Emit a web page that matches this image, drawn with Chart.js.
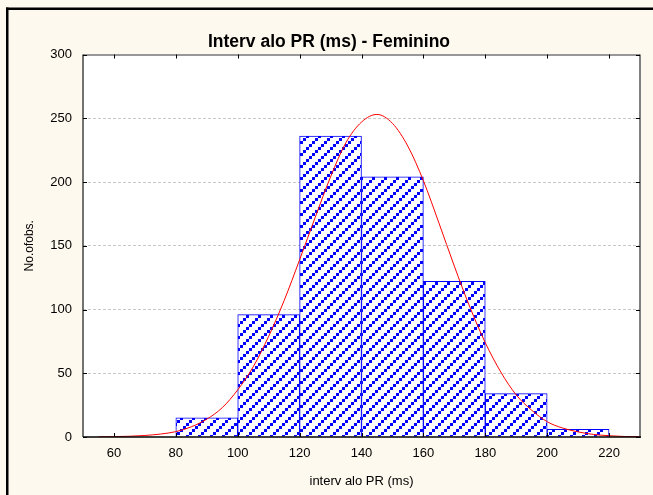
<!DOCTYPE html>
<html>
<head>
<meta charset="utf-8">
<script src="https://cdn.jsdelivr.net/npm/chart.js@4/dist/chart.umd.min.js"></script>
<style>
	html, body { margin: 0; padding: 0; background: #fef9ee; }
	#wrap { width: 653px; height: 495px; position: relative; }
</style>
</head>
<body>
<div id="wrap"><canvas id="chart-pr-feminino"></canvas></div>
<script>
// Histogram bins (bin centres) and counts
const BIN_CENTRES = [90, 110, 130, 150, 170, 190, 210];
const BIN_COUNTS = [15, 96, 236, 204, 122, 34, 6];

// Fitted normal curve
const CURVE_X = [55, 60, 65, 70, 75, 80, 85, 90, 95, 100, 105, 110, 115, 120, 125, 130, 135, 140, 145, 150, 155, 160, 165, 170, 175, 180, 185, 190, 195, 200, 205, 210, 215, 220, 225, 230];
const CURVE_Y = [0.1, 0.3, 0.6, 1.2, 2.3, 4.2, 8, 14, 23, 37, 55, 79, 107, 139, 172, 204, 231, 247, 253, 246, 228, 201, 168, 134, 102, 74, 51, 33, 21, 12, 7, 4, 2, 1, 0.4, 0.2];

// Axis ticks
const X_TICKS = [60, 80, 100, 120, 140, 160, 180, 200, 220];
const Y_TICKS = [0, 50, 100, 150, 200, 250, 300];

const FONT = "'Liberation Sans', Arial, sans-serif";

//---------------------------------------------------------
// Hatch pattern for the bars
//---------------------------------------------------------
const makeHatch = () => {
	const size = 12;
	const tile = document.createElement("canvas");
	tile.width = size;
	tile.height = size;
	const tctx = tile.getContext("2d");
	tctx.fillStyle = "#ffffff";
	tctx.fillRect(0, 0, size, size);
	tctx.fillStyle = "#0000ff";
	// dotted "/" stripes
	for (let i = 0; i < size; i += 3) {
		tctx.fillRect(i, size - 3 - i, 3, 3);
	}
	return tctx.createPattern(tile, "repeat");
};

//---------------------------------------------------------
// Background, frame, plot border and inward ticks
//---------------------------------------------------------
const frameAndTicks = {
	id: "frameAndTicks",
	beforeDraw(chart) {
		const { ctx, width, height, chartArea: a } = chart;
		ctx.save();
		ctx.fillStyle = "#fef9ee";
		ctx.fillRect(0, 0, width, height);
		ctx.fillStyle = "#000000";
		ctx.fillRect(6, 7.5, width - 6, 2.5);
		ctx.fillRect(6, 7.5, 2.5, height - 7.5);
		ctx.fillStyle = "#ffffff";
		ctx.fillRect(a.left, a.top, a.right - a.left, a.bottom - a.top);
		ctx.restore();
	},
	afterDatasetsDraw(chart) {
		const { ctx, chartArea: a, scales } = chart;
		const line = (x1, y1, x2, y2) => {
			ctx.beginPath();
			ctx.moveTo(x1, y1);
			ctx.lineTo(x2, y2);
			ctx.stroke();
		};
		ctx.save();
		// plot border
		ctx.strokeStyle = "#7f7f7f";
		ctx.lineWidth = 2;
		line(a.right, a.top, a.right, a.bottom + 1);
		ctx.strokeStyle = "#333333";
		ctx.lineWidth = 1;
		line(a.left, a.top + 0.5, a.right, a.top + 0.5);
		ctx.lineWidth = 1.5;
		ctx.strokeStyle = "#444444";
		line(a.left, a.top, a.left, a.bottom);
		ctx.strokeStyle = "#000000";
		line(a.left, a.bottom, a.right + 1, a.bottom);
		// ticks pointing inwards on all four sides
		ctx.lineWidth = 1;
		ctx.strokeStyle = "#000000";
		scales.x.ticks.forEach((t) => {
			const px = Math.round(scales.x.getPixelForValue(t.value)) + 0.5;
			line(px, a.bottom, px, a.bottom - 4);
			line(px, a.top, px, a.top + 4);
		});
		scales.y.ticks.forEach((t) => {
			const py = Math.round(scales.y.getPixelForValue(t.value)) + 0.5;
			line(a.left, py, a.left + 4, py);
			line(a.right, py, a.right - 4, py);
		});
		ctx.restore();
	},
};

//---------------------------------------------------------
// Chart
//---------------------------------------------------------
const CHART_DATA = {
	datasets: [
		{
			type: "line",
			label: "Normal",
			data: CURVE_X.map((x, i) => ({ x: x, y: CURVE_Y[i] })),
			borderColor: "#ff0000",
			borderWidth: 1,
			pointRadius: 0,
			cubicInterpolationMode: "monotone",
			fill: false,
			order: 0,
		},
		{
			type: "bar",
			label: "No. of obs.",
			data: BIN_CENTRES.map((x, i) => ({ x: x, y: BIN_COUNTS[i] })),
			backgroundColor: makeHatch(),
			borderColor: "#0000ff",
			borderWidth: 1,
			barPercentage: 1,
			categoryPercentage: 1,
			grouped: false,
			order: 1,
		},
	],
};

const CHART_CONFIG = {
	data: CHART_DATA,
	options: {
		responsive: true,
		maintainAspectRatio: false,
		animation: false,
		layout: {
			padding: { left: 18, right: 13, top: 0, bottom: 0 },
		},
		scales: {
			x: {
				type: "linear",
				offset: false,
				min: 50,
				max: 230,
				afterFit: (scale) => {
					scale.height = 58;
				},
				afterBuildTicks: (scale) => {
					scale.ticks = X_TICKS.map((v) => ({ value: v }));
				},
				grid: { display: false, drawTicks: false, offset: false },
				border: { display: false },
				ticks: {
					padding: 9,
					color: "#000000",
					font: { family: FONT, size: 13 },
					maxRotation: 0,
				},
				title: {
					display: true,
					text: "interv alo PR (ms)",
					color: "#000000",
					font: { family: FONT, size: 13 },
					padding: { top: 0, bottom: 6 },
				},
			},
			y: {
				min: 0,
				max: 300,
				afterFit: (scale) => {
					scale.width = 65;
				},
				afterBuildTicks: (scale) => {
					scale.ticks = Y_TICKS.map((v) => ({ value: v }));
				},
				grid: {
					drawTicks: false,
					color: (ctx) => (ctx.tick && (ctx.tick.value === 0 || ctx.tick.value === 300) ? "rgba(0,0,0,0)" : "#c8c8c8"),
					lineWidth: 1,
				},
				border: { display: false, dash: [3, 2] },
				ticks: {
					padding: 11,
					color: "#000000",
					font: { family: FONT, size: 13 },
				},
				title: {
					display: true,
					text: "No.ofobs.",
					color: "#000000",
					font: { family: FONT, size: 12 },
					padding: { top: 4, bottom: 0 },
				},
			},
		},
		plugins: {
			legend: { display: false },
			tooltip: { enabled: false },
			title: {
				display: true,
				text: "Interv alo PR (ms) - Feminino",
				color: "#000000",
				font: { family: FONT, size: 17.5, weight: "bold" },
				padding: { top: 32, bottom: 1.5 },
			},
		},
	},
	plugins: [frameAndTicks],
};

new Chart(document.getElementById("chart-pr-feminino"), CHART_CONFIG);
</script>
</body>
</html>
